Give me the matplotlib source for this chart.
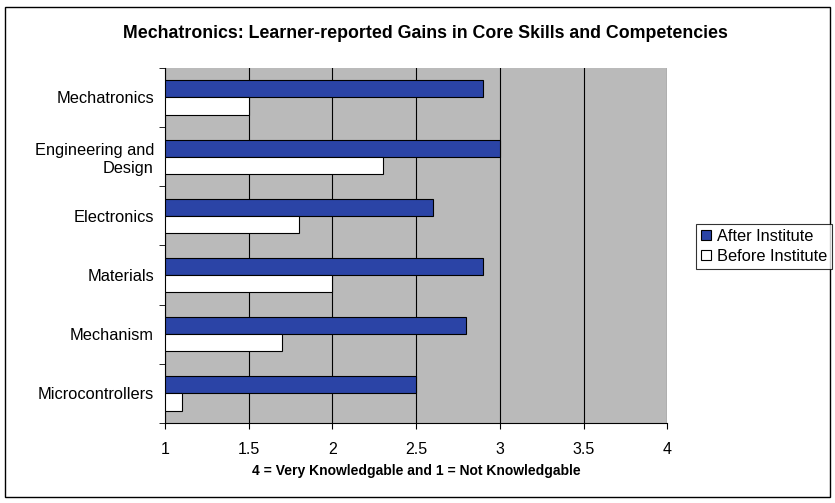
import matplotlib
matplotlib.use("Agg")
import matplotlib.pyplot as plt
from matplotlib.patches import Rectangle
import numpy as np

plt.rcParams['font.family'] = ['Liberation Sans', 'DejaVu Sans']

categories = ["Mechatronics", "Engineering and\nDesign", "Electronics", "Materials", "Mechanism", "Microcontrollers"]
after_vals = [2.9, 3.0, 2.6, 2.9, 2.8, 2.5]
before_vals = [1.5, 2.3, 1.8, 2.0, 1.7, 1.1]
xticks = [1, 1.5, 2, 2.5, 3, 3.5, 4]
xtick_labels = ["1", "1.5", "2", "2.5", "3", "3.5", "4"]

fig = plt.figure(figsize=(8.35, 5.03), dpi=100)
fig.patch.set_facecolor('white')
fig.patches.append(Rectangle((0.006, 0.012), 0.988, 0.975, transform=fig.transFigure,
                             fill=False, edgecolor='black', linewidth=1.0))

ax = fig.add_axes([0.1976, 0.159, 0.6015, 0.706])
ax.set_facecolor('#bababa')

n = len(categories)
y = np.arange(n)[::-1].astype(float)
h = 0.29
base = 1
ax.barh(y + h/2, np.array(after_vals) - base, left=base, height=h, color='#2b44a6',
        edgecolor='black', linewidth=0.8, label='After Institute', zorder=3)
ax.barh(y - h/2, np.array(before_vals) - base, left=base, height=h, color='white',
        edgecolor='black', linewidth=0.8, label='Before Institute', zorder=3)

ax.set_xlim(1, 4)
ax.set_ylim(-0.5, n - 0.5)
ax.set_xticks(xticks)
ax.set_xticklabels(xtick_labels, fontsize=11.5)
ax.set_yticks(y)
ax.set_yticklabels(categories, fontsize=11.8)
ax.set_yticks(np.arange(n + 1) - 0.5, minor=True)
ax.tick_params(axis='y', which='major', length=0, pad=8)
ax.tick_params(axis='y', which='minor', length=4, direction='out')
ax.tick_params(axis='x', length=4, direction='out', pad=10)
ax.xaxis.grid(True, color='black', linewidth=0.8, zorder=1)
ax.set_axisbelow(True)
for s in ['top', 'right']:
    ax.spines[s].set_visible(False)
ax.spines['left'].set_color('black')
ax.spines['bottom'].set_color('black')

ax.set_xlabel("4 = Very Knowledgable and 1 = Not Knowledgable", fontsize=10,
              fontweight='bold', labelpad=5)
fig.text(0.51, 0.934, "Mechatronics: Learner-reported Gains in Core Skills and Competencies",
         ha='center', va='center', fontsize=12.8, fontweight='bold')

leg = fig.legend(loc='center left', bbox_to_anchor=(0.834, 0.51), fontsize=11.8,
                 frameon=True, fancybox=False, edgecolor='black', handlelength=0.6,
                 handleheight=0.6, handletextpad=0.35, borderpad=0.3, labelspacing=0.3,
                 borderaxespad=0.0)
leg.get_frame().set_linewidth(0.8)

fig.savefig("out.png", dpi=100)
